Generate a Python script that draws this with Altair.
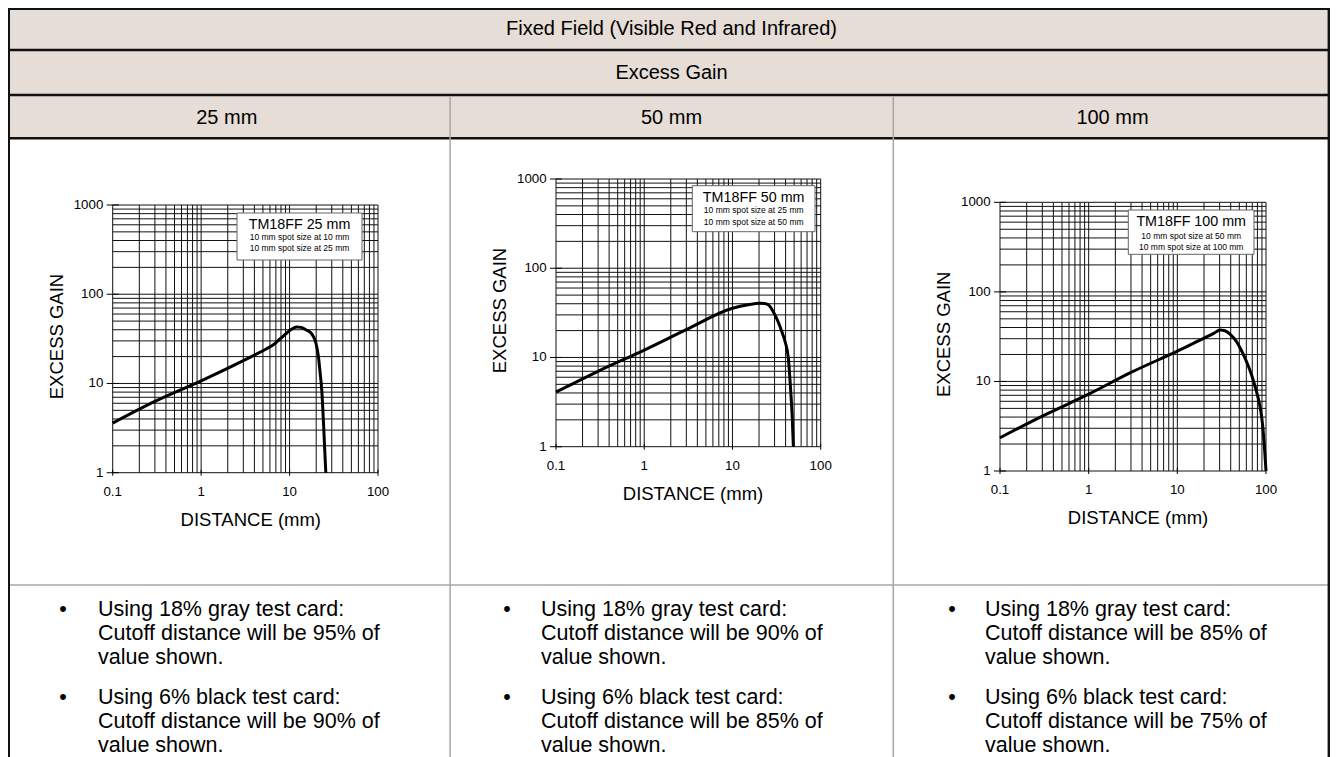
import altair as alt
import pandas as pd

# ---------------- data ----------------
TITLE = "Fixed Field (Visible Red and Infrared)"
SUBTITLE = "Excess Gain"
COLUMN_HEADS = ["25 mm", "50 mm", "100 mm"]
BOX_TITLES = ["TM18FF 25 mm", "TM18FF 50 mm", "TM18FF 100 mm"]
BOX_LINES = [
    ["10 mm spot size at 10 mm", "10 mm spot size at 25 mm"],
    ["10 mm spot size at 25 mm", "10 mm spot size at 50 mm"],
    ["10 mm spot size at 50 mm", "10 mm spot size at 100 mm"],
]
X_TITLE = "DISTANCE (mm)"
Y_TITLE = "EXCESS GAIN"
X_TICKS = [0.1, 1, 10, 100]
X_TICK_LABELS = ["0.1", "1", "10", "100"]
Y_TICKS = [1, 10, 100, 1000]
Y_TICK_LABELS = ["1", "10", "100", "1000"]
X_GRID = [0.1, 0.2, 0.3, 0.4, 0.5, 0.6, 0.7, 0.8, 0.9,
          1, 2, 3, 4, 5, 6, 7, 8, 9,
          10, 20, 30, 40, 50, 60, 70, 80, 90, 100]
Y_GRID = [1, 2, 3, 4, 5, 6, 7, 8, 9,
          10, 20, 30, 40, 50, 60, 70, 80, 90,
          100, 200, 300, 400, 500, 600, 700, 800, 900, 1000]

DIST_25 = [0.1, 0.3, 1, 3, 4, 5.5, 6.5, 7.5, 8.5, 9.5, 10.5, 12, 13.5, 15.6, 17.8, 19.9, 21.2, 22.2, 23.1, 24.2, 25.7]
GAIN_25 = [3.6, 6.3, 10.7, 18.0, 20.8, 24.5, 27.0, 30.5, 34.0, 37.5, 40.5, 43.0, 42.5, 39.5, 35.9, 28.2, 20, 13, 8.5, 3.6, 1]

DIST_50 = [0.1, 0.3, 1, 3, 10, 15, 20.5, 24, 26.5, 29, 33, 36.2, 39.5, 43, 45.8, 47.5, 49]
GAIN_50 = [4.1, 7.0, 12.1, 20.5, 35.6, 39, 40.5, 40, 37.5, 32.6, 25, 19.5, 15, 9.8, 4.1, 2.2, 1]

DIST_100 = [0.1, 0.3, 1, 3, 10, 20, 26, 30.2, 34.4, 39.2, 46.6, 53, 60.4, 68.8, 75, 81.7, 86.9, 91.6, 95.7, 100]
GAIN_100 = [2.35, 4.1, 7.2, 12.6, 21.8, 30.5, 34.6, 37.5, 36.8, 33.8, 27.7, 22, 16.6, 11.8, 8.9, 6.5, 4.8, 3.26, 1.95, 1]

BULLETS = [
    [["Using 18% gray test card:", "Cutoff distance will be 95% of", "value shown."],
     ["Using 6% black test card:", "Cutoff distance will be 90% of", "value shown."]],
    [["Using 18% gray test card:", "Cutoff distance will be 90% of", "value shown."],
     ["Using 6% black test card:", "Cutoff distance will be 85% of", "value shown."]],
    [["Using 18% gray test card:", "Cutoff distance will be 85% of", "value shown."],
     ["Using 6% black test card:", "Cutoff distance will be 75% of", "value shown."]],
]

# ---------------- layout (pixels, styling only) ----------------
W, H = 1322, 749
FONT = "Liberation Sans, Arial, Helvetica, sans-serif"
HEAD_BG = "#e5ddd6"
DUMMY = pd.DataFrame({"k": [0]})

GEOM = [
    dict(L=104.7, R=370.0, T=197.0, B=464.7, box=(229, 205, 354, 252), bcx=291.5,
         by=(217, 228.7, 239.7), xt=(242.8, 512), yt=(48.7, 328.5), bx=55, tx=90),
    dict(L=548.0, R=812.7, T=171.0, B=438.7, box=(684.3, 177.7, 807, 223.7), bcx=745.7,
         by=(189.7, 202, 213.7), xt=(685, 486), yt=(492, 302.5), bx=499, tx=533),
    dict(L=992.0, R=1258.0, T=194.3, B=463.0, box=(1120.3, 202, 1246, 246.3), bcx=1183.2,
         by=(214.3, 227.7, 238.7), xt=(1130, 510.3), yt=(936, 326.3), bx=944, tx=977),
]
HEAD_X = [218.8, 663.5, 1104.5]
BULLET_Y = [608, 696]
LINE_H = 24


def vtext(text, x, y, size, **kw):
    return alt.Chart(DUMMY).mark_text(text=text, fontSize=size, font=FONT, color="black", **kw).encode(
        x=alt.value(x), y=alt.value(y))


def hrule(y, x1, x2, color, w):
    return alt.Chart(DUMMY).mark_rule(color=color, strokeWidth=w).encode(
        x=alt.value(x1), x2=alt.value(x2), y=alt.value(y))


def vrule(x, y1, y2, color, w):
    return alt.Chart(DUMMY).mark_rule(color=color, strokeWidth=w).encode(
        x=alt.value(x), y=alt.value(y1), y2=alt.value(y2))


def panel(i, dist, gain):
    g = GEOM[i]
    xs = alt.Scale(type="log", domain=[0.1, 100], range=[g["L"], g["R"]], nice=False)
    ys = alt.Scale(type="log", domain=[1, 1000], range=[g["B"], g["T"]], nice=False)

    def X(f):
        return alt.X(f, type="quantitative", scale=xs, axis=None)

    def Y(f):
        return alt.Y(f, type="quantitative", scale=ys, axis=None)

    rows = [{"a": v, "a2": v, "b": Y_GRID[0], "b2": Y_GRID[-1]} for v in X_GRID]
    rows += [{"a": X_GRID[0], "a2": X_GRID[-1], "b": v, "b2": v} for v in Y_GRID]
    grid = alt.Chart(pd.DataFrame(rows)).mark_rule(color="#111", strokeWidth=1).encode(
        x=X("a"), x2=alt.X2("a2"), y=Y("b"), y2=alt.Y2("b2"))

    curve = alt.Chart(pd.DataFrame({"d": dist, "g": gain})).mark_line(
        color="black", strokeWidth=3, interpolate="monotone").encode(x=X("d"), y=Y("g"))

    xdf = pd.DataFrame({"a": X_TICKS, "b": [Y_TICKS[0]] * len(X_TICKS), "t": X_TICK_LABELS})
    ydf = pd.DataFrame({"a": [X_TICKS[0]] * len(Y_TICKS), "b": Y_TICKS, "t": Y_TICK_LABELS})
    xtick = alt.Chart(xdf).mark_tick(orient="vertical", size=6, thickness=1, color="black", opacity=1).encode(
        x=X("a"), y=Y("b"))
    ytick = alt.Chart(ydf).mark_tick(orient="horizontal", size=12, thickness=1, color="black", opacity=1).encode(
        x=X("a"), y=Y("b"))
    xlab = alt.Chart(xdf).mark_text(dy=19, fontSize=13.3, font=FONT, color="black", baseline="middle").encode(
        x=X("a"), y=Y("b"), text="t:N")
    ylab = alt.Chart(ydf).mark_text(dx=-9.4, fontSize=13.3, font=FONT, color="black", align="right",
                                    baseline="middle").encode(x=X("a"), y=Y("b"), text="t:N")
    return alt.layer(grid, curve, xtick, ytick, xlab, ylab)


layers = []
# header background
layers.append(alt.Chart(DUMMY).mark_rect(fill=HEAD_BG).encode(
    x=alt.value(0), x2=alt.value(1321), y=alt.value(0), y2=alt.value(131)))

# panels
layers.append(panel(0, DIST_25, GAIN_25))
layers.append(panel(1, DIST_50, GAIN_50))
layers.append(panel(2, DIST_100, GAIN_100))

# legend boxes, axis titles, bullets
for i, g in enumerate(GEOM):
    x1, y1, x2, y2 = g["box"]
    layers.append(alt.Chart(DUMMY).mark_rect(fill="white", stroke="#666", strokeWidth=1).encode(
        x=alt.value(x1), x2=alt.value(x2), y=alt.value(y1), y2=alt.value(y2)))
    layers.append(vtext(BOX_TITLES[i], g["bcx"], g["by"][0], 14.3, baseline="middle"))
    layers.append(vtext(BOX_LINES[i][0], g["bcx"], g["by"][1], 8.5, baseline="middle"))
    layers.append(vtext(BOX_LINES[i][1], g["bcx"], g["by"][2], 8.5, baseline="middle"))
    layers.append(vtext(X_TITLE, g["xt"][0], g["xt"][1], 18.5, baseline="middle"))
    layers.append(vtext(Y_TITLE, g["yt"][0], g["yt"][1], 18.5, baseline="middle", angle=270))
    for k, lines in enumerate(BULLETS[i]):
        layers.append(vtext("\u2022", g["bx"], BULLET_Y[k], 21.5, baseline="alphabetic"))
        layers.append(vtext(lines, g["tx"], BULLET_Y[k], 21.5, align="left", baseline="alphabetic",
                            lineHeight=LINE_H))

# table lines
layers.append(hrule(1, 0, W, "#111", 2))
layers.append(hrule(42, 0, W, "#111", 2.5))
layers.append(hrule(87, 0, W, "#111", 2.5))
layers.append(hrule(130.3, 0, W, "#111", 2.5))
layers.append(hrule(577, 0, W, "#a6a6a6", 1.5))
layers.append(vrule(442.1, 88, H, "#a6a6a6", 1.5))
layers.append(vrule(885.3, 88, H, "#a6a6a6", 1.5))
layers.append(vrule(1, 0, H, "#111", 2))
layers.append(vrule(1320.8, 0, H, "#111", 2.4))

# header texts
layers.append(vtext(TITLE, 663.5, 27, 20, baseline="alphabetic"))
layers.append(vtext(SUBTITLE, 663.5, 71, 20, baseline="alphabetic"))
for i, h in enumerate(COLUMN_HEADS):
    layers.append(vtext(h, HEAD_X[i], 116.3, 20, baseline="alphabetic"))

chart = alt.layer(*layers).resolve_scale(x="independent", y="independent").properties(
    width=W, height=H, padding=0, autosize=alt.AutoSizeParams(type="none")
).configure_view(stroke="transparent")

chart.save("out.html", embed_options={"renderer": "svg", "actions": False})
